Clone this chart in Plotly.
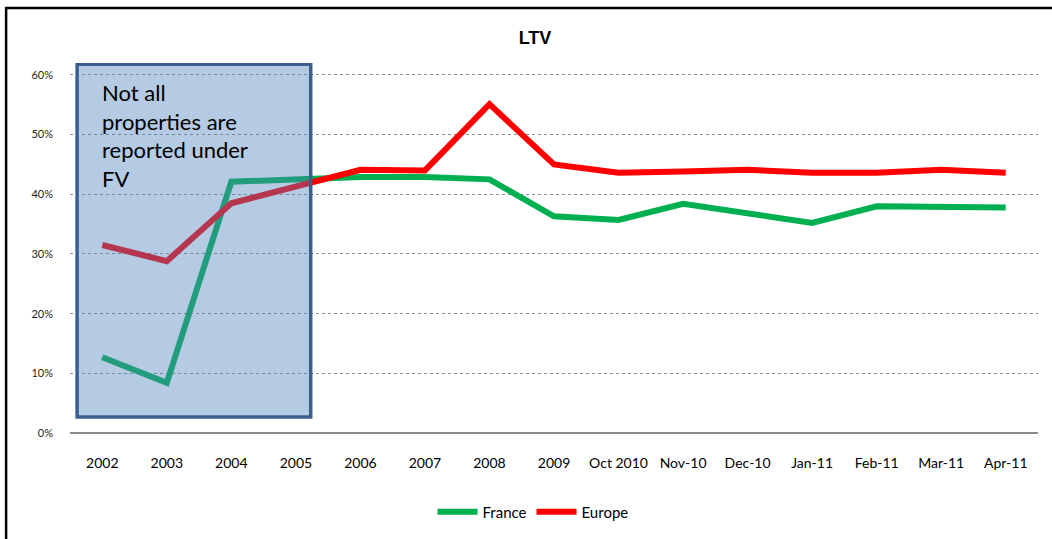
import plotly.graph_objects as go

categories = ["2002", "2003", "2004", "2005", "2006", "2007", "2008", "2009",
              "Oct 2010", "Nov-10", "Dec-10", "Jan-11", "Feb-11", "Mar-11", "Apr-11"]
france = [0.127, 0.084, 0.421, 0.426, 0.429, 0.429, 0.425, 0.363,
          0.357, 0.384, 0.368, 0.352, 0.380, 0.380, 0.378]
europe = [0.315, 0.288, 0.385, 0.412, 0.441, 0.440, 0.551, 0.450,
          0.436, 0.438, 0.441, 0.436, 0.436, 0.441, 0.436]
y_ticks = [0, 0.1, 0.2, 0.3, 0.4, 0.5, 0.6]
note_text = "Not all<br>properties are<br>reported under<br>FV"

fig = go.Figure()
fig.add_trace(go.Scatter(x=list(range(len(categories))), y=france, mode="lines", name="France",
                         line=dict(color="#00B050", width=6)))
fig.add_trace(go.Scatter(x=list(range(len(categories))), y=europe, mode="lines", name="Europe  ",
                         line=dict(color="#FF0000", width=6)))

# Shaded note box (drawn above the lines)
fig.add_shape(type="rect", xref="x", yref="y", x0=-0.39, x1=3.23, y0=0.027, y1=0.618,
              fillcolor="rgba(79,129,189,0.42)", line=dict(color="#3A5F8E", width=3.5),
              layer="above")
fig.add_annotation(xref="x", yref="y", x=-0.03, y=0.596, xanchor="left", yanchor="top",
                   text=note_text, showarrow=False, align="left",
                   font=dict(family="Lato, Carlito, sans-serif", size=22, color="#000000"))

# Outer chart border
fig.add_shape(type="rect", xref="paper", yref="paper", x0=-0.066, x1=1.1, y0=-0.4, y1=1.1486,
              line=dict(color="#000000", width=2.5), fillcolor="rgba(0,0,0,0)", layer="below")

fig.update_layout(
    width=1052, height=539,
    margin=dict(l=70, r=14, t=63, b=106, autoexpand=False),
    paper_bgcolor="white", plot_bgcolor="white",
    title=dict(text="<b>LTV</b>", x=535 / 1052, xanchor="center", y=1 - 38 / 539, yanchor="middle",
               font=dict(family="Liberation Sans, Arial, sans-serif", size=18, color="#000000")),
    font=dict(family="Lato, Carlito, sans-serif", color="#000000"),
    showlegend=True,
    legend=dict(orientation="h", x=(537 - 70) / 968, xanchor="center", y=-(512 - 433) / 370, yanchor="middle",
                font=dict(size=15, color="#000000"), itemwidth=40, tracegroupgap=0),
    xaxis=dict(range=[-0.5, len(categories) - 0.5], tickmode="array",
               tickvals=list(range(len(categories))), ticktext=categories,
               showgrid=False, zeroline=False, showline=False, ticks="",
               ticklabelstandoff=20, tickfont=dict(size=14, color="#000000")),
    yaxis=dict(range=[0, 0.62], tickvals=y_ticks, tickformat=".0%",
               showgrid=True, gridcolor="#8c8c8c", griddash="dot", gridwidth=1,
               zeroline=True, zerolinecolor="#8c8c8c", zerolinewidth=2,
               showline=False, ticks="", ticklabelstandoff=16,
               tickfont=dict(size=11, color="#222222")),
)

fig.write_html("out.html", config={"displayModeBar": False},
               post_script="document.body.style.margin='0';")
